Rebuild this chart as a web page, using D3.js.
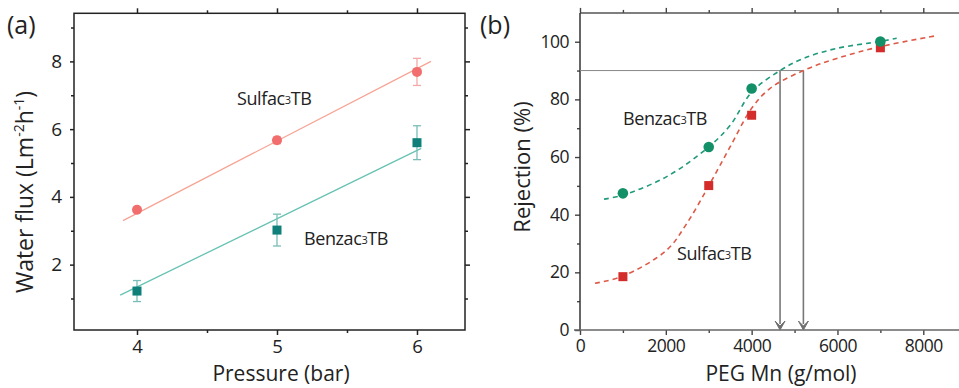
<!DOCTYPE html>
<html>
<head>
<meta charset="utf-8">
<script src="https://cdn.jsdelivr.net/npm/d3@7"></script>
<style>
  html, body { margin: 0; padding: 0; background: #fff; }
  svg { display: block; font-family: "Open Sans", "Noto Sans", sans-serif; }
</style>
</head>
<body>
<svg id="chart" width="959" height="388"></svg>
<script>
// ---------- Panel (a): water flux vs pressure ----------
const pressure = [4, 5, 6];
const sulfacFlux = [3.62, 5.67, 7.69];
const sulfacFluxErr = [0.05, 0.1, 0.4];
const benzacFlux = [1.22, 3.02, 5.6];
const benzacFluxErr = [0.31, 0.47, 0.5];
// linear fit end points [pressure, flux]
const sulfacFluxFit = [[3.9, 3.3], [6.1, 8.0]];
const benzacFluxFit = [[3.88, 1.1], [6.03, 5.43]];
const pressureTicks = [4, 5, 6];
const fluxTicks = [2, 4, 6, 8];

// ---------- Panel (b): rejection vs PEG molecular weight ----------
const pegMn = [1000, 3000, 4000, 7000];
const benzacRejection = [47.4, 63.5, 83.8, 100.1];
const sulfacRejection = [18.5, 50.1, 74.5, 97.9];
// fitted curves [Mn, rejection]
const benzacRejFit = [[560, 45.4], [1000, 46.8], [2020, 53.2], [3000, 63.5], [3500, 71], [4000, 82.5],
  [4662, 90], [5206, 94.2], [5984, 97.7], [7000, 100.1], [7380, 101.2]];
const sulfacRejFit = [[350, 16.2], [1000, 18.7], [2020, 27.7], [2490, 37], [3000, 50], [3500, 63.6],
  [4000, 76.9], [4430, 83.8], [5206, 90], [5984, 94.2], [7000, 98.3], [8275, 102]];
// molecular weight cut-off markers at 90 % rejection
const mwcoLevel = 90;
const mwcoValues = [4662, 5206];
const mnTicks = [0, 2000, 4000, 6000, 8000];
const rejTicks = [0, 20, 40, 60, 80, 100];

const svg = d3.select("#chart");
const plain = d3.format("d");

// ===== Panel (a) =====
const xa = d3.scaleLinear().domain([3.55, 6.343]).range([74, 465]);
const ya = d3.scaleLinear().domain([0.07, 9.42]).range([330, 13.3]);
const ga = svg.append("g");

const colSulfA = "#f26d6d", colSulfALine = "#f7a393", colSulfAErr = "#f5a8a8";
const colBenzA = "#0e7f79", colBenzALine = "#67c2b3", colBenzAErr = "#78bdb8";

// axes (ticks outside on bottom/left, mirrored inside on top/right)
const axA = [
  { ax: d3.axisBottom(xa).tickValues(pressureTicks).tickFormat(plain).tickSize(5).tickPadding(5), y: 330 },
  { ax: d3.axisBottom(xa).tickValues([4.5, 5.5]).tickSize(3).tickFormat(""), y: 330 },
  { ax: d3.axisBottom(xa).tickValues(pressureTicks).tickSize(-5).tickFormat(""), y: 13.3 },
  { ax: d3.axisBottom(xa).tickValues([4.5, 5.5]).tickSize(-3).tickFormat(""), y: 13.3 },
];
axA.forEach(a => {
  const g = ga.append("g").attr("transform", `translate(0,${a.y})`).call(a.ax);
  g.select(".domain").remove();
  g.selectAll("line").attr("stroke", "#222").attr("stroke-width", 1.5);
  g.selectAll("text").attr("font-size", 18.5).attr("fill", "#222").attr("font-family", "Open Sans");
});
const ayA = [
  { ax: d3.axisLeft(ya).tickValues(fluxTicks).tickFormat(plain).tickSize(4).tickPadding(8), x: 74 },
  { ax: d3.axisLeft(ya).tickValues([1, 3, 5, 7, 9]).tickSize(3).tickFormat(""), x: 74 },
  { ax: d3.axisLeft(ya).tickValues(fluxTicks).tickSize(-5).tickFormat(""), x: 465 },
  { ax: d3.axisLeft(ya).tickValues([1, 3, 5, 7, 9]).tickSize(-3).tickFormat(""), x: 465 },
];
ayA.forEach(a => {
  const g = ga.append("g").attr("transform", `translate(${a.x},0)`).call(a.ax);
  g.select(".domain").remove();
  g.selectAll("line").attr("stroke", "#222").attr("stroke-width", 1.5);
  g.selectAll("text").attr("font-size", 19).attr("fill", "#222").attr("font-family", "Open Sans");
});
ga.append("rect").attr("x", 74).attr("y", 13.3).attr("width", 391).attr("height", 316.7)
  .attr("fill", "none").attr("stroke", "#222").attr("stroke-width", 1.5);

const lineA = d3.line().x(d => xa(d[0])).y(d => ya(d[1]));
ga.append("path").attr("d", lineA(sulfacFluxFit)).attr("fill", "none").attr("stroke", colSulfALine).attr("stroke-width", 1.3);
ga.append("path").attr("d", lineA(benzacFluxFit)).attr("fill", "none").attr("stroke", colBenzALine).attr("stroke-width", 1.3);

function errorBars(g, xs, ys, es, xsc, ysc, col) {
  xs.forEach((x, i) => {
    const cx = xsc(x), y0 = ysc(ys[i] - es[i]), y1 = ysc(ys[i] + es[i]);
    g.append("line").attr("x1", cx).attr("x2", cx).attr("y1", y0).attr("y2", y1).attr("stroke", col).attr("stroke-width", 1.3);
    [y0, y1].forEach(yy => g.append("line").attr("x1", cx - 4).attr("x2", cx + 4).attr("y1", yy).attr("y2", yy)
      .attr("stroke", col).attr("stroke-width", 1.3));
  });
}
errorBars(ga, pressure, sulfacFlux, sulfacFluxErr, xa, ya, colSulfAErr);
errorBars(ga, pressure, benzacFlux, benzacFluxErr, xa, ya, colBenzAErr);

ga.selectAll(".ptSA").data(pressure).enter().append("circle")
  .attr("cx", d => xa(d)).attr("cy", (d, i) => ya(sulfacFlux[i])).attr("r", 5).attr("fill", colSulfA);
ga.selectAll(".ptBA").data(pressure).enter().append("rect")
  .attr("x", d => xa(d) - 4.5).attr("y", (d, i) => ya(benzacFlux[i]) - 4.5).attr("width", 9).attr("height", 9).attr("fill", colBenzA);

function compoundLabel(g, x, y, name) {
  const t = g.append("text").attr("x", x).attr("y", y).attr("font-size", 18).attr("letter-spacing", -0.4).attr("fill", "#222");
  t.append("tspan").text(name);
  t.append("tspan").attr("font-size", 11).attr("dy", -1).text("3");
  t.append("tspan").attr("font-size", 18).attr("dy", 1).text("TB");
}
compoundLabel(ga, 237, 105, "Sulfac");
compoundLabel(ga, 304, 245, "Benzac");

ga.append("text").attr("x", 7).attr("y", 34).attr("font-size", 25).attr("fill", "#222").text("(a)");
const ylabA = ga.append("text").attr("transform", "translate(33,192) rotate(-90)").attr("text-anchor", "middle")
  .attr("font-size", 23).attr("fill", "#222");
ylabA.append("tspan").text("Water flux (Lm");
ylabA.append("tspan").attr("font-size", 14).attr("dy", -9).text("-2");
ylabA.append("tspan").attr("font-size", 23).attr("dy", 9).text("h");
ylabA.append("tspan").attr("font-size", 14).attr("dy", -9).text("-1");
ylabA.append("tspan").attr("font-size", 23).attr("dy", 9).text(")");
ga.append("text").attr("x", 281).attr("y", 381).attr("text-anchor", "middle").attr("font-size", 21).attr("fill", "#222")
  .text("Pressure (bar)");

// ===== Panel (b) =====
const xb = d3.scaleLinear().domain([0, 9000]).range([580, 966.2]);
const yb = d3.scaleLinear().domain([0, 110]).range([330, 12.9]);
const gb = svg.append("g");
const colBenzB = "#139068", colSulfB = "#d42b2b";
const axisCol = "#444";

// frame: top and right edges, then left and bottom axes
gb.append("line").attr("x1", 580).attr("x2", 966).attr("y1", 12.9).attr("y2", 12.9).attr("stroke", "#555").attr("stroke-width", 1.5);
gb.append("line").attr("x1", 966).attr("x2", 966).attr("y1", 12.9).attr("y2", 330).attr("stroke", "#555").attr("stroke-width", 1.5);

const axB = [
  { ax: d3.axisBottom(xb).tickValues(mnTicks).tickFormat(plain).tickSize(5).tickPadding(5), y: 330 },
  { ax: d3.axisBottom(xb).tickValues([1000, 3000, 5000, 7000]).tickSize(3).tickFormat(""), y: 330 },
  { ax: d3.axisBottom(xb).tickValues(mnTicks).tickSize(-5).tickFormat(""), y: 12.9 },
  { ax: d3.axisBottom(xb).tickValues([1000, 3000, 5000, 7000]).tickSize(-3).tickFormat(""), y: 12.9 },
];
axB.forEach(a => {
  const g = gb.append("g").attr("transform", `translate(0,${a.y})`).call(a.ax);
  g.select(".domain").remove();
  g.selectAll("line").attr("stroke", axisCol).attr("stroke-width", 1.4);
  g.selectAll("text").attr("font-size", 17.5).attr("letter-spacing", -0.5).attr("fill", "#222").attr("font-family", "Open Sans");
});
const ayB = [
  { ax: d3.axisLeft(yb).tickValues(rejTicks).tickFormat(plain).tickSize(5).tickPadding(6), x: 580 },
  { ax: d3.axisLeft(yb).tickValues([10, 30, 50, 70, 90]).tickSize(3).tickFormat(""), x: 580 },
];
ayB.forEach(a => {
  const g = gb.append("g").attr("transform", `translate(${a.x},0)`).call(a.ax);
  g.select(".domain").remove();
  g.selectAll("line").attr("stroke", axisCol).attr("stroke-width", 1.4);
  g.selectAll("text").attr("font-size", 17.5).attr("letter-spacing", -0.5).attr("fill", "#222").attr("font-family", "Open Sans");
});
gb.append("line").attr("x1", 580).attr("x2", 580).attr("y1", 12.9).attr("y2", 330).attr("stroke", "#333").attr("stroke-width", 1.5);
gb.append("line").attr("x1", 574).attr("x2", 966).attr("y1", 330).attr("y2", 330).attr("stroke", "#666").attr("stroke-width", 1.6);

// cut-off guide lines and arrows
gb.append("line").attr("x1", xb(0)).attr("x2", xb(d3.max(mwcoValues))).attr("y1", yb(mwcoLevel)).attr("y2", yb(mwcoLevel))
  .attr("stroke", "#888").attr("stroke-width", 1);
mwcoValues.forEach(v => {
  const x = xb(v);
  gb.append("line").attr("x1", x).attr("x2", x).attr("y1", yb(mwcoLevel)).attr("y2", yb(0) - 6)
    .attr("stroke", "#777").attr("stroke-width", 1.6);
  gb.append("path").attr("d", `M${x - 5},${yb(0) - 9} L${x},${yb(0) - 4} L${x + 5},${yb(0) - 9} L${x},${yb(0)} Z`)
    .attr("fill", "#6f6f6f").attr("stroke", "#6f6f6f").attr("stroke-width", 1).attr("stroke-linejoin", "round");
});

const curveB = d3.line().x(d => xb(d[0])).y(d => yb(d[1])).curve(d3.curveCatmullRom.alpha(0.5));
gb.append("path").attr("d", curveB(sulfacRejFit)).attr("fill", "none").attr("stroke", "#dd5a48")
  .attr("stroke-width", 1.6).attr("stroke-dasharray", "5,4");
gb.append("path").attr("d", curveB(benzacRejFit)).attr("fill", "none").attr("stroke", "#1f9a7a")
  .attr("stroke-width", 1.6).attr("stroke-dasharray", "5,4");

gb.selectAll(".ptSB").data(pegMn).enter().append("rect")
  .attr("x", d => xb(d) - 4.5).attr("y", (d, i) => yb(sulfacRejection[i]) - 4.5).attr("width", 9).attr("height", 9).attr("fill", colSulfB);
gb.selectAll(".ptBB").data(pegMn).enter().append("circle")
  .attr("cx", d => xb(d)).attr("cy", (d, i) => yb(benzacRejection[i])).attr("r", 5.3).attr("fill", colBenzB);

compoundLabel(gb, 623, 125, "Benzac");
compoundLabel(gb, 677, 260, "Sulfac");

gb.append("text").attr("x", 480).attr("y", 34).attr("font-size", 25).attr("fill", "#222").text("(b)");
gb.append("text").attr("transform", "translate(530,167) rotate(-90)").attr("text-anchor", "middle")
  .attr("font-size", 22).attr("fill", "#222").text("Rejection (%)");
gb.append("text").attr("x", 781).attr("y", 381).attr("text-anchor", "middle").attr("font-size", 21).attr("fill", "#222")
  .text("PEG Mn (g/mol)");
</script>
</body>
</html>
